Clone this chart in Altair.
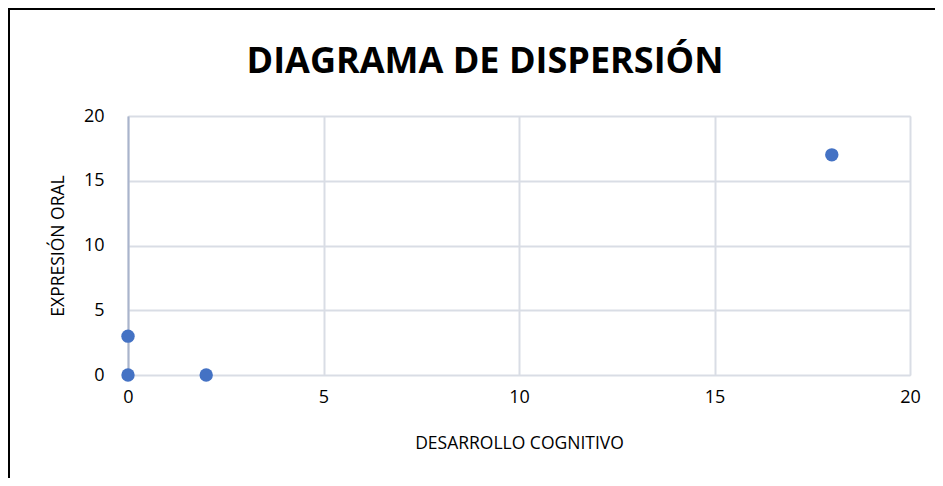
import altair as alt
import pandas as pd

desarrollo = [0, 0, 2, 18]
expresion = [0, 3, 0, 17]
x_ticks = [0, 5, 10, 15, 20]
y_ticks = [0, 5, 10, 15, 20]
title_text = ["DIAGRAMA DE DISPERSIÓN"]

df = pd.DataFrame({"DESARROLLO COGNITIVO": desarrollo, "EXPRESIÓN ORAL": expresion})
tdf = pd.DataFrame({"t": title_text})

FONT = "'Open Sans', Lato, sans-serif"
W, H = 782, 259
PL, PT = 120, 108
PR, PB = 927 - PL - W, 470 - PT - H

points = alt.Chart(df).mark_circle(size=180, color="#4472C4", opacity=1).encode(
    x=alt.X("DESARROLLO COGNITIVO:Q",
            scale=alt.Scale(domain=[0, 20], nice=False),
            axis=alt.Axis(values=x_ticks, grid=True, gridColor="#D9DDE5", gridWidth=2,
                          domain=False, ticks=False, labelPadding=13, labelFontSize=18,
                          labelFlush=False, labelOverlap=False,
                          titleFontSize=17.5, titlePadding=28, titleFontWeight="normal",
                          labelFont=FONT, titleFont=FONT, labelColor="#000", titleColor="#000")),
    y=alt.Y("EXPRESIÓN ORAL:Q",
            scale=alt.Scale(domain=[0, 20], nice=False),
            axis=alt.Axis(values=y_ticks, grid=True, gridColor="#D9DDE5", gridWidth=2,
                          domain=True, domainColor="#A9B4CC", domainWidth=2,
                          ticks=False, labelPadding=24, labelFontSize=18,
                          labelFlush=False, labelOverlap=False,
                          titleFontSize=17.5, titlePadding=16, titleFontWeight="normal",
                          labelFont=FONT, titleFont=FONT, labelColor="#000", titleColor="#000")),
)

frame = alt.Chart(df).mark_rect(fill="transparent", stroke="#000", strokeWidth=2, clip=False).encode(
    x=alt.value(-119), y=alt.value(-107), x2=alt.value(W + 200), y2=alt.value(H + 200)
)

title = alt.Chart(tdf).mark_text(font=FONT, fontSize=36, fontWeight="bold", color="#000",
                                 align="center", baseline="middle").encode(
    text="t:N", x=alt.value(W / 2 - 34), y=alt.value(-54)
)

chart = alt.layer(frame, points, title).properties(
    width=W, height=H,
    autosize=alt.AutoSizeParams(type="none"),
    padding={"left": PL, "top": PT, "right": PR, "bottom": PB},
).configure_view(stroke=None).configure(background="white")

chart.save("out.html", embed_options={"renderer": "svg", "actions": False})
